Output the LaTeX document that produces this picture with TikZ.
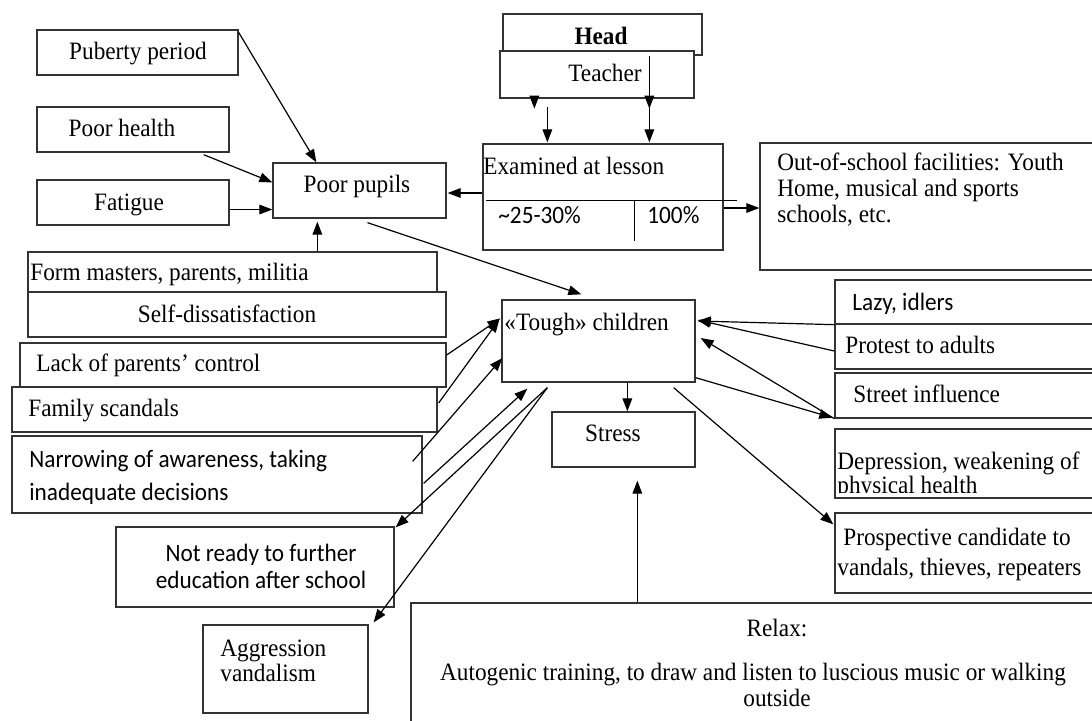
\documentclass[tikz,border=0pt]{standalone}
\usepackage{fontspec}
\setmainfont[FakeStretch=0.93]{Liberation Serif}
\newfontfamily\sansf[FakeStretch=0.93]{Carlito}
\usetikzlibrary{arrows.meta,calc,fit}
\begin{document}
\begin{tikzpicture}[x=0.5pt,y=-0.5pt,
  box/.style={draw=black!80, line width=0.65pt, inner sep=0pt, fill=white},
  txt/.style={inner sep=0pt, font=\fontsize{12.5pt}{13pt}\selectfont},
  stxt/.style={inner sep=0pt, font=\fontsize{12.5pt}{13pt}\sansf},
  arr/.style={line width=0.6pt, -{Triangle[length=6.5pt,width=4.8pt]}},
  ln/.style={line width=0.6pt}]
\useasboundingbox (0,0) rectangle (1092,720);
\fill[white] (0,0) rectangle (1092,720);
\clip (0,0) rectangle (1092,720);

% ---------- boxes ----------
\node[box, fit={(37,30)(238,75)}] (pub) {};
\node[box, fit={(37,107)(229,152)}] (health) {};
\node[box, fit={(37,180)(229,225)}] (fat) {};
\node[box, fit={(273,163)(446,218)}] (poor) {};
\node[box, fit={(503,14)(702,55)}] (head) {};
\node[box, fit={(500,51)(694,98)}] (teacher) {};
\node[box, fit={(483,144)(723,250)}] (exam) {};
\node[box, fit={(760,143)(1110,270)}] (outs) {};
\node[box, fit={(28,252)(437,292)}] (form) {};
\node[box, fit={(28,292)(446,337)}] (self) {};
\node[box, fit={(20,343)(446,387)}] (lack) {};
\node[box, fit={(12,387)(437,432)}] (family) {};
\node[box, fit={(12,436)(422,513)}] (narrow) {};
\node[box, fit={(116,527)(394,607)}] (notready) {};
\node[box, fit={(203,625)(368,713)}] (aggr) {};
\node[box, fit={(502,300)(695,382)}] (tough) {};
\node[box, fit={(552,412)(695,467)}] (stress) {};
\node[box, fit={(835,280)(1110,324)}] (lazy) {};
\node[box, fit={(835,324)(1110,369)}] (protest) {};
\node[box, fit={(835,373)(1110,418)}] (street) {};
\node[box, fit={(835,429)(1110,498)}] (depr) {};
\node[box, fit={(835,513)(1110,593)}] (prosp) {};
\node[box, fit={(411,603)(1110,740)}] (relax) {};

% table lines inside "Examined at lesson"
\draw[ln] ($(exam.north west)+(4,57)$) -- ($(exam.north east)+(13,57)$);
\draw[ln] ($(exam.north west)+(152,57)$) -- ++(0,41);

% ---------- texts ----------
\node[txt, anchor=base] (pubT) at (138,59) {Puberty period};
\node[txt, anchor=base] (healthT) at (122,136) {Poor health};
\node[txt, anchor=base] (fatT) at (129,210) {Fatigue};
\node[txt, anchor=base] (poorT) at (357,192) {Poor pupils};
\node[txt, anchor=base, font=\fontsize{12.5pt}{13pt}\selectfont\bfseries] (headT) at (601,44) {Head};
\node[txt, anchor=base] (teacherT) at (605,81) {Teacher};
\node[txt, anchor=base west] (examT) at (483,174) {Examined at lesson};
\node[stxt, anchor=base west] (pctA) at (498,223) {\textasciitilde25-30\%};
\node[stxt, anchor=base west] (pctB) at (647,223) {100\%};
\node[txt, anchor=north west, align=left] (outsT) at (777,152) {Out-of-school facilities: Youth\\Home, musical and sports\\schools, etc.};
\node[txt, anchor=base west] (formT) at (30,280) {Form masters, parents, militia};
\node[txt, anchor=base] (selfT) at (227,322) {Self-dissatisfaction};
\node[txt, anchor=base west] (lackT) at (36,371) {Lack of parents’ control};
\node[txt, anchor=base west] (familyT) at (28,416) {Family scandals};
\node[stxt, anchor=north west, align=left, font=\fontsize{12.5pt}{16.5pt}\sansf] (narrowT) at (29,450) {Narrowing of awareness, taking\\inadequate decisions};
\node[stxt, anchor=north, align=center, font=\fontsize{12.5pt}{13.5pt}\sansf] (notreadyT) at (261,544) {Not ready to further\\education after school};
\node[txt, anchor=north west, align=left, font=\fontsize{12.5pt}{12.5pt}\selectfont] (aggrT) at (220,640) {Aggression\\vandalism};
\node[txt, anchor=base west] (toughT) at (504,330) {«Tough» children};
\node[txt, anchor=base] (stressT) at (613,441) {Stress};
\node[stxt, anchor=base west] (lazyT) at (852,310) {Lazy, idlers};
\node[txt, anchor=base west] (protestT) at (845,353) {Protest to adults};
\node[txt, anchor=base west] (streetT) at (853,402) {Street influence};
\begin{scope}
  \clip (depr.north west) rectangle ($(depr.south east)+(0,-6)$);
  \node[txt, anchor=north west, align=left, font=\fontsize{12.5pt}{12pt}\selectfont] (deprT) at (837,451) {Depression, weakening of\\physical health};
\end{scope}
\node[txt, anchor=north west, align=left, font=\fontsize{12.5pt}{15pt}\selectfont] (prospT) at (837,528) {\hspace*{3pt}Prospective candidate to\\vandals, thieves, repeaters};
\node[txt, anchor=base] (relaxT) at (777,636) {Relax:};
\node[txt, anchor=north, align=center, font=\fontsize{12.5pt}{13pt}\selectfont] (autoT) at (753,663) {Autogenic training, to draw and listen to luscious music or walking\\\hspace*{24pt}outside};

% ---------- connectors ----------
\draw[arr] ($(pub.north east)+(0,3)$) -- ($(poor.north west)+(44,0)$);
\draw[arr] ($(health.south east)+(-26,2)$) -- ($(poor.north west)+(0,20)$);
\draw[arr] ($(fat.east)+(0,7)$) -- ($(poor.west)+(0,19)$);
\draw[arr] ($(form.north west)+(290,0)$) -- ($(poor.south west)+(45,3)$);
\draw[arr] ($(exam.west)+(0,-4)$) -- ($(poor.east)+(1,2.5)$);
\draw[arr] ($(poor.south)+(8,4)$) -- ($(tough.north west)+(80,-5)$);

\draw[arr] ($(teacher.south west)+(35,-2)$) -- ++(0,12);
\draw[arr] ($(teacher.south west)+(48,8)$) -- ($(exam.north west)+(65,-1)$);
\draw[arr] ($(head.south west)+(147,0)$) -- ($(exam.north west)+(167,-1)$);
\draw[arr] ($(teacher.south west)+(150,-2)$) -- ++(0,12);
\draw[arr] ($(exam.east)+(0,11)$) -- ($(outs.west)+(0,1.5)$);

\draw[arr] ($(lack.east)+(0,-10)$) -- ($(tough.north west)+(-1,19)$);
\draw[arr] ($(family.east)+(1,-6.5)$) -- ($(tough.north west)+(-2,20)$);
\draw[arr] ($(narrow.north east)+(-10,26)$) -- ($(tough.west)+(1,17)$);
\draw[arr] ($(narrow.north east)+(1,48)$) -- ($(tough.south west)+(26,6)$);
\draw[arr] ($(tough.south west)+(46,5)$) -- ($(notready.north east)+(1,1)$);
\draw[arr] ($(tough.south west)+(46,5)$) -- ($(aggr.north east)+(5,-2)$);
\draw[arr] ($(tough.south west)+(126,0)$) -- ($(stress.north west)+(76,0)$);
\draw[arr] ($(relax.north west)+(227,0)$) -- ($(stress.south west)+(86,13)$);

\draw[arr] (lazy.south west) -- ($(tough.east)+(2,-20)$);
\draw[arr] ($(protest.west)+(0,4.5)$) -- ($(tough.east)+(2,-21)$);
\draw[arr] (street.south west) -- ($(tough.east)+(5,-3)$);
\draw[arr] ($(tough.south east)+(0,-5)$) -- ($(street.south west)+(-2,-1)$);
\draw[arr] ($(tough.south east)+(-22,5)$) -- ($(prosp.north west)+(-1,12)$);
\end{tikzpicture}
\end{document}
